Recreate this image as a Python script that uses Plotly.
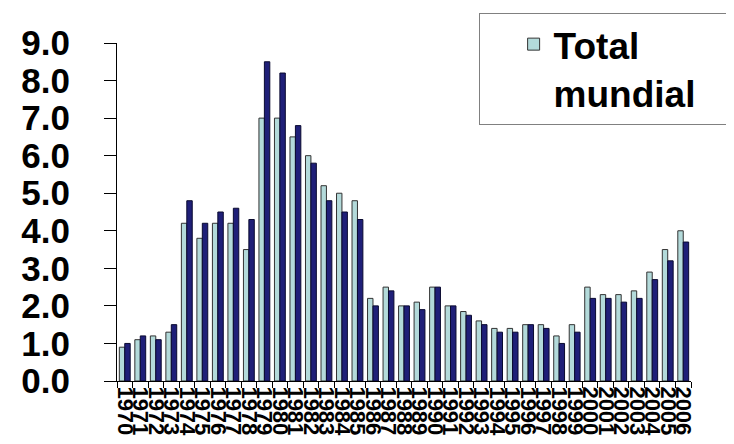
import plotly.graph_objects as go

years = [str(y) for y in range(1970, 2007)]
total_mundial = [0.9, 1.1, 1.2, 1.3, 4.2, 3.8, 4.2, 4.2, 3.5, 7.0,
                 7.0, 6.5, 6.0, 5.2, 5.0, 4.8, 2.2, 2.5, 2.0, 2.1,
                 2.5, 2.0, 1.85, 1.6, 1.4, 1.4, 1.5, 1.5, 1.2, 1.5,
                 2.5, 2.3, 2.3, 2.4, 2.9, 3.5, 4.0]
serie_2 = [1.0, 1.2, 1.1, 1.5, 4.8, 4.2, 4.5, 4.6, 4.3, 8.5,
           8.2, 6.8, 5.8, 4.8, 4.5, 4.3, 2.0, 2.4, 2.0, 1.9,
           2.5, 2.0, 1.75, 1.5, 1.3, 1.3, 1.5, 1.4, 1.0, 1.3,
           2.2, 2.2, 2.1, 2.2, 2.7, 3.2, 3.7]
y_ticks = [0, 1, 2, 3, 4, 5, 6, 7, 8, 9]

fig = go.Figure()
fig.add_trace(go.Bar(x=years, y=total_mundial, name="Total<br>mundial",
                     marker=dict(color="#b3dada", line=dict(color="#333333", width=1))))
fig.add_trace(go.Bar(x=years, y=serie_2, name="serie 2", showlegend=False,
                     marker=dict(color="#1f1f78", line=dict(color="#0a0a30", width=1))))

fig.update_layout(
    width=734, height=444,
    margin=dict(l=109, r=51, t=35, b=71, autoexpand=False),
    paper_bgcolor="white", plot_bgcolor="white",
    barmode="group", bargap=0.3, bargroupgap=0.0,
    font=dict(family="Liberation Sans, Arial, sans-serif", color="black"),
    legend=dict(orientation="h", x=0.63, y=1.09, xanchor="left", yanchor="top",
                bgcolor="white", bordercolor="#808080", borderwidth=1,
                valign="top", entrywidth=240, entrywidthmode="pixels",
                itemwidth=30, indentation=34,
                font=dict(size=37, family="Liberation Sans, Arial, sans-serif", color="black", weight="bold")),
    showlegend=True,
)
fig.update_xaxes(type="category", dtick=1, tickangle=90, automargin=False,
                 showline=True, linecolor="black", linewidth=1,
                 ticks="outside", ticklen=6, tickcolor="black", tickson="boundaries",
                 tickfont=dict(size=22, weight="bold"), showgrid=False)
fig.update_yaxes(range=[0, 9], tickvals=y_ticks, tickformat=".1f", automargin=False,
                 showline=True, linecolor="black", linewidth=1,
                 ticks="outside", ticklen=12, tickcolor="black",
                 ticklabelstandoff=27,
                 tickfont=dict(size=35, weight="bold"), showgrid=False, zeroline=False)

fig.write_html("out.html")
